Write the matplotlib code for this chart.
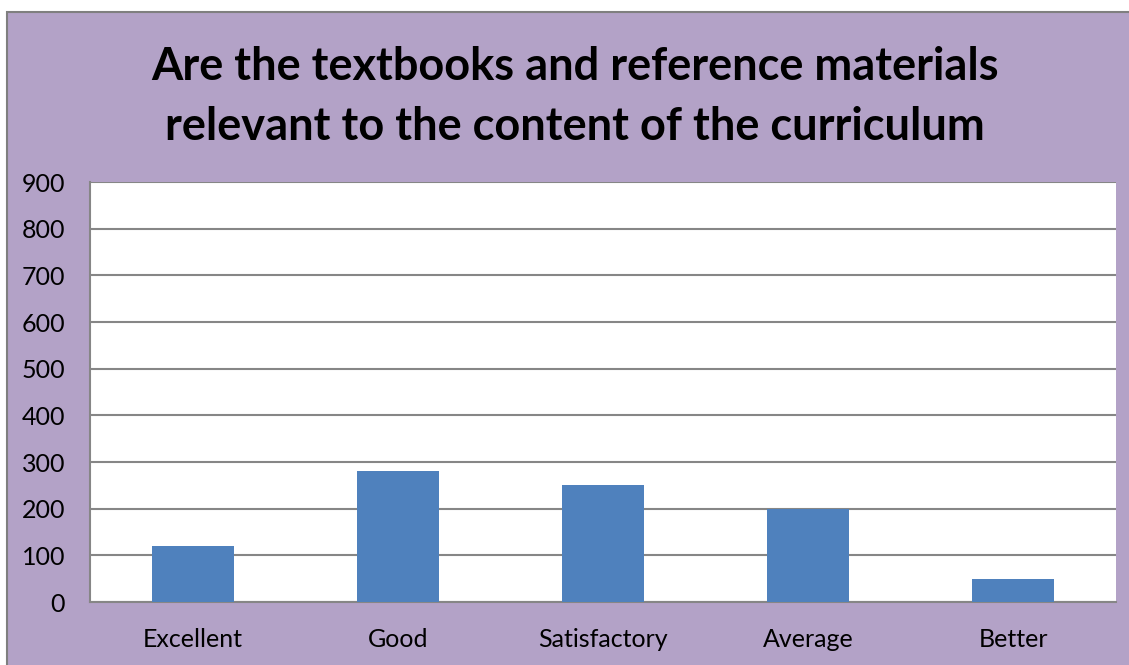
import matplotlib
matplotlib.use("Agg")
import matplotlib.pyplot as plt
from matplotlib.patches import Rectangle

categories = ["Excellent", "Good", "Satisfactory", "Average", "Better"]
values = [120, 280, 250, 200, 50]
yticks = [0, 100, 200, 300, 400, 500, 600, 700, 800, 900]
title = "Are the textbooks and reference materials\nrelevant to the content of the curriculum"

W, H = 1129, 665
fig = plt.figure(figsize=(W / 100, H / 100), dpi=100)
fig.patch.set_facecolor("white")
bg = Rectangle((7 / W, -0.02), 1 - 7 / W + 0.02, (H - 12) / H + 0.02, transform=fig.transFigure,
               facecolor="#B3A2C7", edgecolor="#7F7F7F", linewidth=1.5, zorder=-10)
fig.patches.append(bg)

ax = fig.add_axes([90 / W, (H - 602) / H, 1026 / W, 420 / H])
ax.set_zorder(5)
ax.set_facecolor("white")
x = range(len(categories))
ax.bar(x, values, width=0.4, color="#4F81BD", zorder=3)
ax.set_xlim(-0.5, len(categories) - 0.5)
ax.set_ylim(0, 900)
ax.set_yticks(yticks)
ax.set_xticks(list(x))
ax.set_xticklabels(categories, fontsize=18, family="Lato")
ax.set_yticklabels([str(t) for t in yticks], fontsize=18, family="Lato")
ax.tick_params(length=0)
ax.tick_params(axis="y", pad=18)
ax.tick_params(axis="x", pad=19)
ax.grid(axis="y", color="#868686", linewidth=1.5, zorder=1)
for s in ["top", "right"]:
    ax.spines[s].set_visible(False)
for s in ["left", "bottom"]:
    ax.spines[s].set_color("#868686")
    ax.spines[s].set_linewidth(1.5)

fig.text(575 / W, 1 - 97 / H, title, ha="center", va="center", fontsize=32.5,
         fontweight="bold", family="Lato", linespacing=1.5, zorder=6)

fig.savefig("out.png", dpi=100)
